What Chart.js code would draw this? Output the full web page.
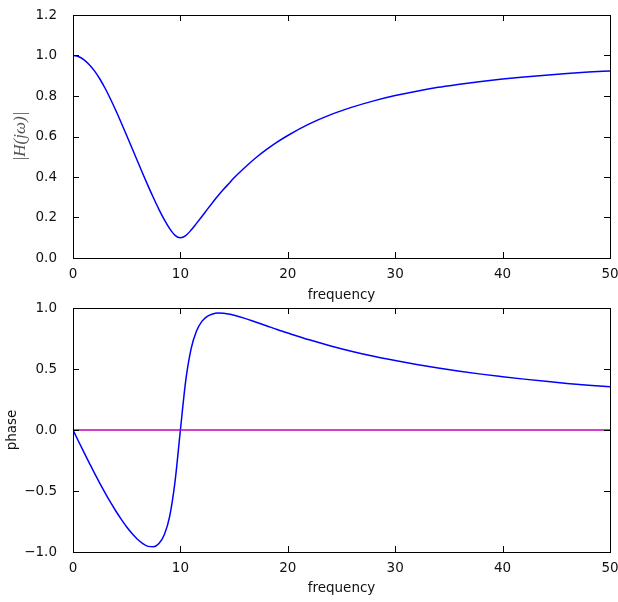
<!DOCTYPE html>
<html>
<head>
<meta charset="utf-8">
<script src="https://cdn.jsdelivr.net/npm/chart.js@4"></script>
<style>
  body { margin: 0; background: #fff; }
  canvas { display: block; }
</style>
</head>
<body>
<canvas id="magChart" width="618" height="302"></canvas>
<canvas id="phaseChart" width="618" height="300"></canvas>
<script>
// frequency samples (denser around the notch at 10)
const freq = [0, 0.5, 1, 1.5, 2, 2.5, 3, 3.5, 4, 4.5, 5, 5.5, 6, 6.5, 7, 7.5, 8, 8.5, 9, 9.5,
    10, 10.5, 11, 11.5, 12, 12.5, 13, 13.5, 14, 14.5, 15, 16, 17, 18, 19, 20,
    22, 24, 26, 28, 30, 32, 34, 36, 38, 40, 42, 44, 46, 48, 50];

const magnitude = [1.000, 0.995, 0.980, 0.956, 0.924, 0.884, 0.837, 0.784, 0.727, 0.667,
    0.605, 0.542, 0.479, 0.416, 0.355, 0.296, 0.240, 0.189, 0.145, 0.112,
    0.100, 0.111, 0.138, 0.171, 0.205, 0.240, 0.274, 0.307, 0.338, 0.367, 0.396,
    0.447, 0.494, 0.535, 0.572, 0.605,
    0.662, 0.708, 0.745, 0.776, 0.802, 0.824, 0.843, 0.858, 0.872, 0.884, 0.894, 0.903, 0.911, 0.918, 0.924];

const phase = [0, -0.090, -0.179, -0.267, -0.354, -0.437, -0.517, -0.594, -0.666, -0.733,
    -0.795, -0.849, -0.896, -0.931, -0.954, -0.957, -0.931, -0.859, -0.708, -0.423,
    0, 0.406, 0.667, 0.812, 0.890, 0.931, 0.951, 0.958, 0.957, 0.950, 0.940,
    0.915, 0.885, 0.855, 0.824, 0.795,
    0.739, 0.689, 0.644, 0.604, 0.569, 0.537, 0.508, 0.482, 0.458, 0.437, 0.417, 0.399, 0.382, 0.367, 0.354];

// reference line at zero phase
const zeroLineX = [0, 50];
const zeroLineY = [0, 0];

const xTicks = [0, 10, 20, 30, 40, 50];
const magTicks = [0, 0.2, 0.4, 0.6, 0.8, 1.0, 1.2];
const phaseTicks = [-1.0, -0.5, 0.0, 0.5, 1.0];

const FONT = 'DejaVu Sans';
const toPoints = (xs, ys) => xs.map((x, i) => ({ x: x, y: ys[i] }));
const fmt = v => v.toFixed(1).replace('-', '\u2212');

// box around the plot area with inward ticks on all four sides
const framePlugin = {
    id: 'frame',
    afterDraw(chart) {
        const { ctx, chartArea: a, scales } = chart;
        const len = 6;
        ctx.save();
        ctx.strokeStyle = '#000';
        ctx.lineWidth = 1;
        ctx.beginPath();
        scales.x.ticks.forEach(t => {
            const px = Math.round(scales.x.getPixelForValue(t.value)) + 0.5;
            ctx.moveTo(px, a.bottom); ctx.lineTo(px, a.bottom - len);
            ctx.moveTo(px, a.top); ctx.lineTo(px, a.top + len);
        });
        scales.y.ticks.forEach(t => {
            const py = Math.round(scales.y.getPixelForValue(t.value)) + 0.5;
            ctx.moveTo(a.left, py); ctx.lineTo(a.left + len, py);
            ctx.moveTo(a.right, py); ctx.lineTo(a.right - len, py);
        });
        ctx.stroke();
        ctx.strokeRect(Math.round(a.left) + 0.5, Math.round(a.top) + 0.5,
            Math.round(a.right - a.left), Math.round(a.bottom - a.top));
        ctx.restore();
    }
};

function makeOptions(cfg) {
    return {
        responsive: false,
        animation: false,
        events: [],
        layout: { padding: { top: cfg.padTop, right: 8, bottom: cfg.padBottom, left: 0 } },
        plugins: { legend: { display: false }, tooltip: { enabled: false } },
        elements: { point: { radius: 0 } },
        scales: {
            x: {
                type: 'linear', min: 0, max: 50,
                afterBuildTicks: s => { s.ticks = xTicks.map(v => ({ value: v })); },
                afterFit: s => { s.height = cfg.xHeight; s.paddingLeft = 0; s.paddingRight = 0; },
                grid: { display: false },
                border: { display: false },
                ticks: { color: '#111', padding: 2, maxRotation: 0, font: { family: FONT, size: 13.5, lineHeight: 1 } },
                title: {
                    display: true, text: 'frequency', color: '#111',
                    padding: { top: 0, bottom: cfg.xTitlePad },
                    font: { family: FONT, size: 13.5, lineHeight: 1 }
                }
            },
            y: {
                type: 'linear', min: cfg.yMin, max: cfg.yMax,
                afterBuildTicks: s => { s.ticks = cfg.yTicks.map(v => ({ value: v })); },
                afterFit: s => { s.width = 73; s.paddingTop = 0; s.paddingBottom = 0; },
                grid: { display: false },
                border: { display: false },
                ticks: { color: '#111', padding: 8, callback: v => fmt(v), font: { family: FONT, size: 13.5, lineHeight: 1 } },
                title: {
                    display: true, text: cfg.yTitle, color: cfg.yTitleColor,
                    padding: { top: cfg.yTitlePad, bottom: 0 },
                    font: cfg.yTitleFont
                }
            }
        }
    };
}

new Chart(document.getElementById('magChart'), {
    type: 'line',
    data: {
        datasets: [{
            data: toPoints(freq, magnitude),
            borderColor: '#0000ff',
            borderWidth: 1.5,
            cubicInterpolationMode: 'monotone'
        }]
    },
    options: makeOptions({
        padTop: 15, padBottom: 0, xHeight: 44, xTitlePad: 0,
        yMin: 0, yMax: 1.2, yTicks: magTicks,
        yTitle: '|H(j\u03c9)|', yTitleColor: '#555', yTitlePad: 12,
        yTitleFont: { family: 'Liberation Serif', size: 17, style: 'italic', lineHeight: 1 }
    }),
    plugins: [framePlugin]
});

new Chart(document.getElementById('phaseChart'), {
    type: 'line',
    data: {
        datasets: [{
            data: toPoints(zeroLineX, zeroLineY),
            borderColor: '#bf00bf',
            borderWidth: 1.5
        }, {
            data: toPoints(freq, phase),
            borderColor: '#0000ff',
            borderWidth: 1.5,
            cubicInterpolationMode: 'monotone'
        }]
    },
    options: makeOptions({
        padTop: 6, padBottom: 7, xHeight: 43, xTitlePad: 0,
        yMin: -1, yMax: 1, yTicks: phaseTicks,
        yTitle: 'phase', yTitleColor: '#111', yTitlePad: 6,
        yTitleFont: { family: FONT, size: 13.5, lineHeight: 1 }
    }),
    plugins: [framePlugin]
});
</script>
</body>
</html>
